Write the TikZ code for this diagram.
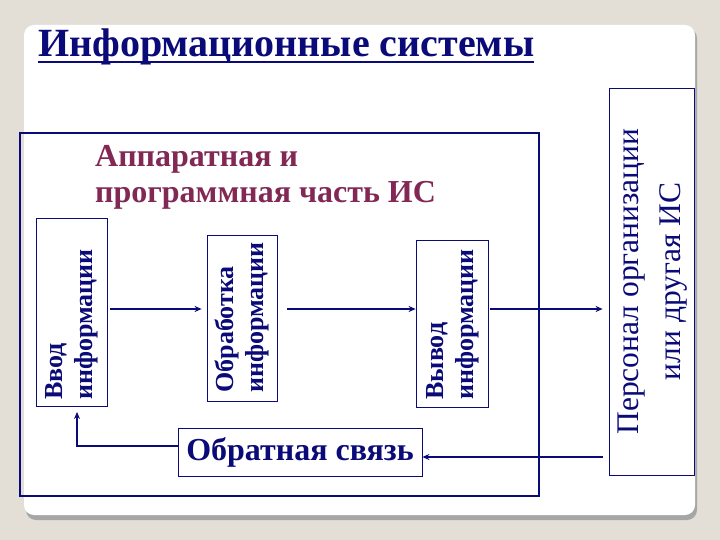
\documentclass[tikz,border=0pt]{standalone}
\usepackage{fontspec}
\setmainfont{Liberation Serif}
\usetikzlibrary{arrows.meta}
\definecolor{navy}{RGB}{10,10,120}
\definecolor{plum}{RGB}{130,40,85}
\definecolor{slidebg}{RGB}{227,223,214}
\tikzset{
  block/.style={draw=navy, line width=0.8pt, inner sep=0pt, text=navy, font=\bfseries\fontsize{26}{30}\selectfont},
  link/.style={draw=navy, line width=2.4pt, -{Stealth[length=7pt,width=6pt]}},
}
\begin{document}
\begin{tikzpicture}[x=1pt,y=-1pt]
\useasboundingbox (0,0) rectangle (720,540);
\fill[slidebg] (0,0) rectangle (720,540);
% slide
\fill[gray!70, rounded corners=10pt] (26,28) rectangle (697,520);
\fill[white, rounded corners=10pt] (24,25) rectangle (695,515);

\node[anchor=base west, inner sep=0pt, text=navy, font=\bfseries\fontsize{40}{46}\selectfont] (title) at (38,57) {Информационные системы};
\draw[navy, line width=2.5pt] ([yshift=-5pt]title.base west) -- ([yshift=-5pt]title.base east);

% hardware and software part
\draw[navy, line width=2.2pt] (20,133) rectangle (539,496);
\node[anchor=north west, inner sep=0pt, align=left, text=plum, font=\bfseries\fontsize{32}{36}\selectfont] (hw) at (95,145) {Аппаратная и\\программная часть ИС};

\node[block, minimum width=71pt, text height=181pt, text depth=7pt, anchor=south] (vvod) at (71.5,407) {\rotatebox{90}{\begin{tabular}{@{}l@{}}Ввод\\информации\end{tabular}}};
\node[block, minimum width=70pt, text height=157pt, text depth=9pt, anchor=south] (obr) at (242,402) {\rotatebox{90}{\begin{tabular}{@{}l@{}}Обработка\\информации\end{tabular}}};
\node[block, minimum width=72pt, text height=159pt, text depth=8pt, anchor=south] (vyvod) at (452,408) {\rotatebox{90}{\begin{tabular}{@{}l@{}}Вывод\\информации\end{tabular}}};
\node[block, font=\bfseries\fontsize{32}{38}\selectfont, minimum width=244pt, minimum height=48pt] (fb) at (300,452) {Обратная связь};
\node[block, font=\fontsize{31.5}{42}\selectfont, minimum width=85pt, minimum height=387pt] (pers) at (651.5,281.5) {\rotatebox{90}{\begin{tabular}{@{}c@{}}Персонал организации\\или другая ИС\end{tabular}}};

% connectors
\coordinate (row) at (0,309);
\coordinate (back) at (0,457);
\coordinate (turn) at (77,446);
\draw[link, shorten <=3pt, shorten >=5pt] (vvod.east |- row) -- (obr.west |- row);
\draw[link, shorten <=10pt] (obr.east |- row) -- (vyvod.west |- row);
\draw[link, shorten <=2pt, shorten >=6pt] (vyvod.east |- row) -- (pers.west |- row);
\draw[link, shorten <=6pt] (pers.west |- back) -- (fb.east |- back);
\draw[link, shorten >=5pt] (fb.west |- turn) -- (turn) -- (turn |- vvod.south);
\end{tikzpicture}
\end{document}
